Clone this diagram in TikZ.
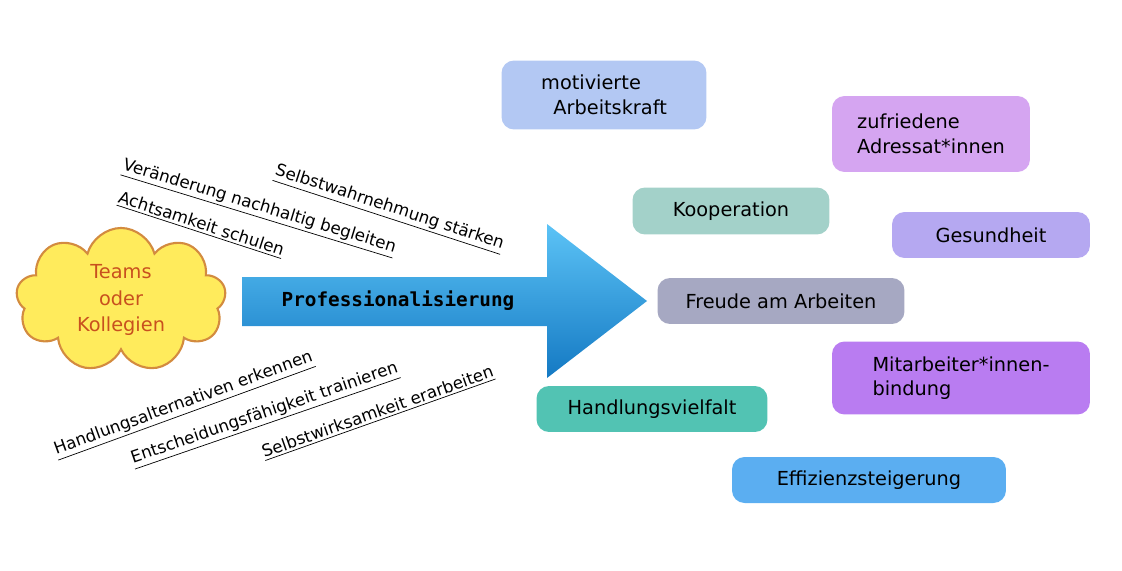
\documentclass[tikz,border=0pt]{standalone}
\usepackage{fontspec}
\setmainfont{DejaVu Sans}
\setmonofont{DejaVu Sans Mono}
\usetikzlibrary{shapes.symbols}
\definecolor{cMot}{HTML}{B3C8F3}
\definecolor{cZuf}{HTML}{D5A5F1}
\definecolor{cKoop}{HTML}{A3D1C9}
\definecolor{cGes}{HTML}{B5A8F1}
\definecolor{cFreu}{HTML}{A6A8C2}
\definecolor{cMit}{HTML}{B97CF1}
\definecolor{cHand}{HTML}{52C3B3}
\definecolor{cEff}{HTML}{5BAEF1}
\definecolor{cloudfill}{HTML}{FFEB5C}
\definecolor{cloudline}{HTML}{D38B3F}
\definecolor{cloudtext}{HTML}{C8501E}
\definecolor{arrtop}{HTML}{5CC3F6}
\definecolor{arrbot}{HTML}{1479C3}
\tikzset{
  goal/.style={rounded corners=0.25cm, draw=none, font=\fontsize{11}{14}\selectfont, inner sep=0pt},
  aim/.style={font=\fontsize{9.5}{11}\selectfont, inner sep=1pt},
}
\begin{document}
\begin{tikzpicture}[x=0.02cm,y=-0.02cm]
  \useasboundingbox (0,0) rectangle (1122,571);

  % big arrow
  \shade[top color=arrtop, bottom color=arrbot]
    (242,277) -- (547,277) -- (547,224) -- (647,301) -- (547,378) -- (547,326) -- (242,326) -- cycle;
  \node[font=\ttfamily\bfseries\fontsize{11}{13}\selectfont] (prof) at (398,301) {Professionalisierung};

  % cloud
  \node[cloud, cloud puffs=9, aspect=1.9, draw=cloudline, line width=1.2pt, fill=cloudfill,
        minimum width=4.2cm, minimum height=2.3cm, inner sep=0pt, align=center, text=cloudtext,
        font=\fontsize{11}{15}\selectfont] (team) at (121,300) {Teams\\oder\\Kollegien};

  % goals
  \node[goal, fill=cMot, minimum width=4.1cm, minimum height=1.38cm, align=left] (mot) at (604,95) {motivierte\\\ \ Arbeitskraft};
  \node[goal, fill=cZuf, minimum width=3.96cm, minimum height=1.52cm, align=left] (zuf) at (931,134) {zufriedene\\Adressat*innen};
  \node[goal, fill=cKoop, minimum width=3.94cm, minimum height=0.94cm] (koop) at (731,211) {Kooperation};
  \node[goal, fill=cGes, minimum width=3.96cm, minimum height=0.92cm] (ges) at (991,235) {Gesundheit};
  \node[goal, fill=cFreu, minimum width=4.94cm, minimum height=0.92cm] (freu) at (781,301) {Freude am Arbeiten};
  \node[goal, fill=cMit, minimum width=5.16cm, minimum height=1.46cm, align=left] (mit) at (961,378) {Mitarbeiter*innen-\\bindung\hspace{2.2em}};
  \node[goal, fill=cHand, minimum width=4.62cm, minimum height=0.92cm] (hand) at (652,409) {Handlungsvielfalt};
  \node[goal, fill=cEff, minimum width=5.48cm, minimum height=0.92cm] (eff) at (869,480) {Effizienzsteigerung};

  % steps
  \node[aim, rotate=-17] (ver) at (259,208) {\underline{Veränderung nachhaltig begleiten}};
  \node[aim, rotate=-18] (selbw) at (389,209) {\underline{Selbstwahrnehmung stärken}};
  \node[aim, rotate=-18] (acht) at (201,225) {\underline{Achtsamkeit schulen}};
  \node[aim, rotate=20] (halt) at (184,405) {\underline{Handlungsalternativen erkennen}};
  \node[aim, rotate=19] (ents) at (265,415) {\underline{Entscheidungsfähigkeit trainieren}};
  \node[aim, rotate=19.5] (selbst) at (378,413) {\underline{Selbstwirksamkeit erarbeiten}};
\end{tikzpicture}
\end{document}
